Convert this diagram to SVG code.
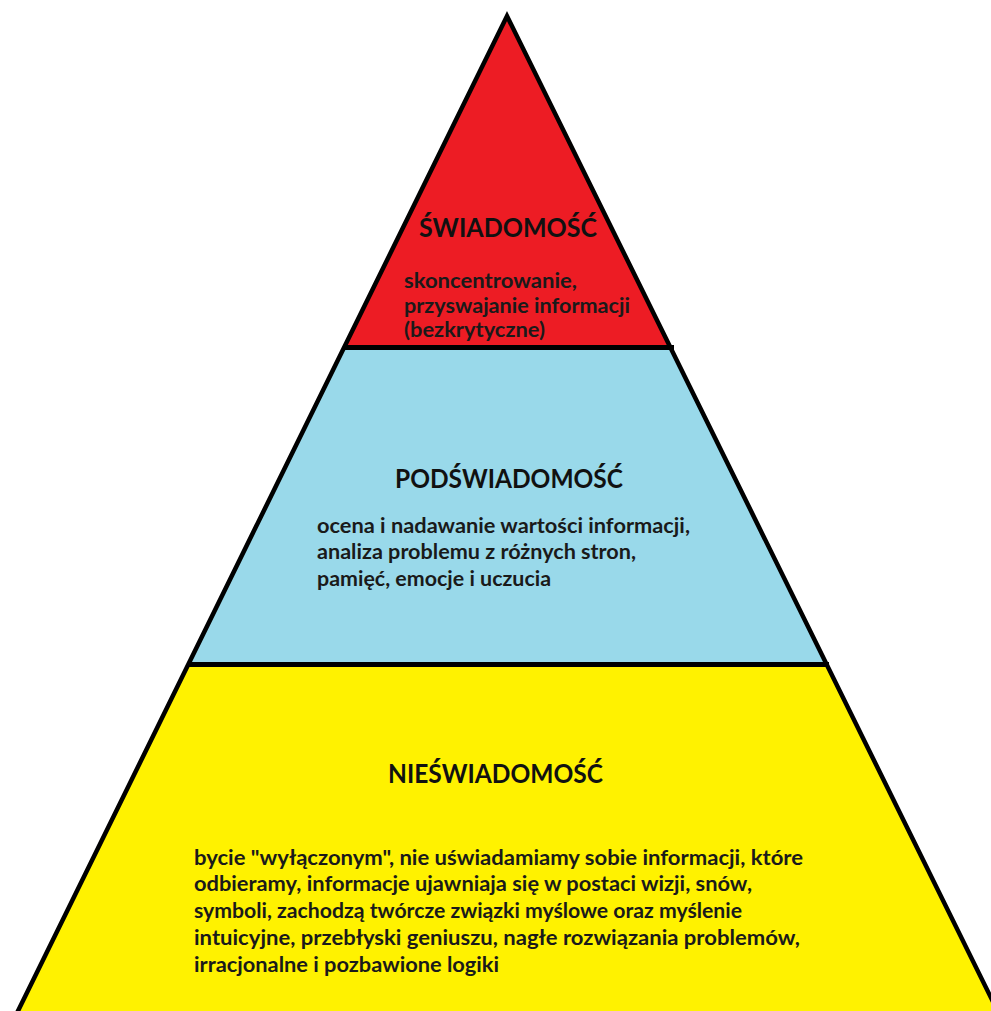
<svg xmlns="http://www.w3.org/2000/svg" width="991" height="1011" viewBox="0 0 991 1011">
<style>
.head{font-family:Lato,"Open Sans","Liberation Sans",sans-serif;font-weight:bold;font-size:27px;fill:#111}
.body{font-family:Lato,"Open Sans","Liberation Sans",sans-serif;font-weight:bold;font-size:20.5px;fill:#1a1a1a}
.edge{fill:none;stroke:#000;stroke-width:4.5;stroke-linejoin:miter;stroke-miterlimit:10}
.div{stroke:#000;stroke-width:5}
</style>
<rect width="991" height="1011" fill="#fff"/>
<g id="level-nieswiadomosc">
<polygon points="188.3,664.5 826.7,664.5 999.5,1015 16,1015" fill="#FFF200"/>
<text class="head" x="388" y="783" textLength="215" lengthAdjust="spacingAndGlyphs">NIEŚWIADOMOŚĆ</text>
<text class="body" x="194" y="865" textLength="609" lengthAdjust="spacingAndGlyphs">bycie "wyłączonym", nie uświadamiamy sobie informacji, które</text>
<text class="body" x="194" y="891" textLength="558" lengthAdjust="spacingAndGlyphs">odbieramy, informacje ujawniaja się w postaci wizji, snów,</text>
<text class="body" x="194" y="918" textLength="548" lengthAdjust="spacingAndGlyphs">symboli, zachodzą twórcze związki myślowe oraz myślenie</text>
<text class="body" x="194" y="945" textLength="606" lengthAdjust="spacingAndGlyphs">intuicyjne, przebłyski geniuszu, nagłe rozwiązania problemów,</text>
<text class="body" x="194" y="972" textLength="305" lengthAdjust="spacingAndGlyphs">irracjonalne i pozbawione logiki</text>
</g>
<g id="level-podswiadomosc">
<polygon points="344.3,347.5 670.2,347.5 826.7,664.5 188.3,664.5" fill="#99D9EA"/>
<text class="head" x="395" y="488" textLength="228" lengthAdjust="spacingAndGlyphs">PODŚWIADOMOŚĆ</text>
<text class="body" x="317" y="533" textLength="373" lengthAdjust="spacingAndGlyphs">ocena i nadawanie wartości informacji,</text>
<text class="body" x="317" y="559" textLength="319" lengthAdjust="spacingAndGlyphs">analiza problemu z różnych stron,</text>
<text class="body" x="317" y="586" textLength="234" lengthAdjust="spacingAndGlyphs">pamięć, emocje i uczucia</text>
</g>
<g id="level-swiadomosc">
<polygon points="507,16 670.2,347.5 344.3,347.5" fill="#ED1C24"/>
<text class="head" x="419" y="237" textLength="178" lengthAdjust="spacingAndGlyphs">ŚWIADOMOŚĆ</text>
<text class="body" x="404" y="288" textLength="173" lengthAdjust="spacingAndGlyphs">skoncentrowanie,</text>
<text class="body" x="404" y="313" textLength="226" lengthAdjust="spacingAndGlyphs">przyswajanie informacji</text>
<text class="body" x="404" y="337" textLength="141" lengthAdjust="spacingAndGlyphs">(bezkrytyczne)</text>
</g>
<g id="connectors">
<polyline class="edge" points="16,1015 507,16 999.5,1015"/>
<line class="div" x1="343" y1="347.5" x2="674" y2="347.5"/>
<line class="div" x1="187" y1="664.5" x2="829" y2="664.5"/>
</g>
</svg>
